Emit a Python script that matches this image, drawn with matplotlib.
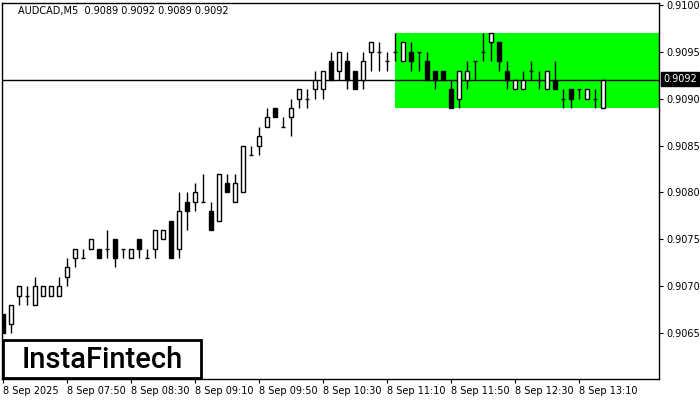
import matplotlib
matplotlib.use("Agg")
import matplotlib.pyplot as plt
from matplotlib.patches import Rectangle

# ---- data (AUDCAD M5) ----
opens = [0.9067, 0.9066, 0.9069, 0.9069, 0.9068, 0.9069, 0.9069, 0.9069, 0.9071, 0.9073,
         0.9073, 0.9074, 0.9074, 0.9074, 0.9075, 0.9074, 0.9073, 0.9075, 0.9073, 0.9074,
         0.9075, 0.9077, 0.9074, 0.9079, 0.9079, 0.9079, 0.9078, 0.9077, 0.9081, 0.9079,
         0.9080, 0.9084, 0.9085, 0.9087, 0.9089, 0.9087, 0.9088, 0.9090, 0.9090, 0.9091,
         0.9091, 0.9094, 0.9093, 0.9094, 0.9093, 0.9092, 0.9095, 0.9095, 0.9094, 0.9095,
         0.9094, 0.9095, 0.9095, 0.9094, 0.9093, 0.9093, 0.9091, 0.9090, 0.9092, 0.9094,
         0.9095, 0.9096, 0.9096, 0.9093, 0.9091, 0.9091, 0.9093, 0.9092, 0.9091, 0.9092,
         0.9090, 0.9091, 0.9091, 0.9090, 0.9090, 0.9089]
highs = [0.9067, 0.9068, 0.9070, 0.9070, 0.9071, 0.9070, 0.9070, 0.9071, 0.9073, 0.9074,
         0.9074, 0.9075, 0.9074, 0.9076, 0.9075, 0.9074, 0.9074, 0.9075, 0.9074, 0.9076,
         0.9076, 0.9077, 0.9080, 0.9080, 0.9081, 0.9082, 0.9079, 0.9082, 0.9082, 0.9082,
         0.9085, 0.9085, 0.9087, 0.9089, 0.9089, 0.9088, 0.9090, 0.9091, 0.9091, 0.9093,
         0.9093, 0.9095, 0.9095, 0.9095, 0.9093, 0.9095, 0.9096, 0.9096, 0.9095, 0.9097,
         0.9096, 0.9096, 0.9095, 0.9095, 0.9093, 0.9093, 0.9092, 0.9093, 0.9094, 0.9094,
         0.9097, 0.9097, 0.9096, 0.9094, 0.9092, 0.9093, 0.9094, 0.9093, 0.9093, 0.9094,
         0.9091, 0.9091, 0.9091, 0.9091, 0.9091, 0.9092]
lows = [0.9065, 0.9065, 0.9068, 0.9068, 0.9068, 0.9069, 0.9069, 0.9069, 0.9070, 0.9072,
        0.9073, 0.9074, 0.9073, 0.9073, 0.9072, 0.9073, 0.9073, 0.9073, 0.9073, 0.9073,
        0.9075, 0.9073, 0.9073, 0.9076, 0.9078, 0.9079, 0.9076, 0.9077, 0.9080, 0.9079,
        0.9080, 0.9084, 0.9084, 0.9087, 0.9088, 0.9087, 0.9086, 0.9089, 0.9089, 0.9090,
        0.9090, 0.9092, 0.9092, 0.9091, 0.9091, 0.9091, 0.9093, 0.9093, 0.9093, 0.9094,
        0.9094, 0.9093, 0.9093, 0.9092, 0.9091, 0.9092, 0.9089, 0.9089, 0.9091, 0.9092,
        0.9094, 0.9094, 0.9093, 0.9091, 0.9091, 0.9091, 0.9092, 0.9091, 0.9091, 0.9091,
        0.9089, 0.9089, 0.9090, 0.9090, 0.9089, 0.9089]
closes = [0.9065, 0.9068, 0.9070, 0.9069, 0.9070, 0.9070, 0.9070, 0.9070, 0.9072, 0.9074,
          0.9073, 0.9075, 0.9073, 0.9074, 0.9073, 0.9074, 0.9074, 0.9074, 0.9073, 0.9076,
          0.9076, 0.9073, 0.9078, 0.9078, 0.9080, 0.9079, 0.9076, 0.9082, 0.9080, 0.9081,
          0.9085, 0.9084, 0.9086, 0.9088, 0.9088, 0.9087, 0.9089, 0.9091, 0.9090, 0.9092,
          0.9093, 0.9092, 0.9095, 0.9092, 0.9091, 0.9094, 0.9096, 0.9095, 0.9094, 0.9095,
          0.9096, 0.9094, 0.9095, 0.9092, 0.9092, 0.9092, 0.9089, 0.9093, 0.9093, 0.9094,
          0.9095, 0.9097, 0.9094, 0.9092, 0.9092, 0.9092, 0.9093, 0.9092, 0.9093, 0.9091,
          0.9090, 0.9090, 0.9091, 0.9091, 0.9090, 0.9092]

x_tick_bars = [0, 8, 16, 24, 32, 40, 48, 56, 64, 72]
x_tick_labels = ["8 Sep 2025", "8 Sep 07:50", "8 Sep 08:30", "8 Sep 09:10", "8 Sep 09:50",
                 "8 Sep 10:30", "8 Sep 11:10", "8 Sep 11:50", "8 Sep 12:30", "8 Sep 13:10"]
y_ticks = [0.9065, 0.9070, 0.9075, 0.9080, 0.9085, 0.9090, 0.9095, 0.9100]

title_text = "AUDCAD,M5  0.9089 0.9092 0.9089 0.9092"
current_price = 0.9092
zone_start_bar = 49
zone_low, zone_high = 0.9089, 0.9097

# ---- figure ----
W, H = 700, 400
fig = plt.figure(figsize=(W / 100, H / 100), dpi=100)
ax = fig.add_axes([2 / W, (H - 379) / H, (659 - 2) / W, (379 - 3) / H])

n = len(opens)
xmax = 82.0
ax.set_xlim(-0.125, xmax)
ax.set_ylim(0.90601, 0.91002)

# green zone
ax.add_patch(Rectangle((zone_start_bar, zone_low), xmax - zone_start_bar, zone_high - zone_low,
                       facecolor="#00ff00", edgecolor="none", zorder=0))

# current price line
ax.axhline(current_price, color="black", lw=1.0, zorder=1)

bw = 0.6
for i in range(n):
    o, h, l, c = opens[i], highs[i], lows[i], closes[i]
    ax.plot([i, i], [l, h], color="black", lw=1.0, zorder=2, solid_capstyle="butt")
    if o == c:
        ax.plot([i - bw / 2, i + bw / 2], [o, o], color="black", lw=1.0, zorder=3,
                solid_capstyle="butt")
    else:
        fc = "white" if c > o else "black"
        ax.add_patch(Rectangle((i - bw / 2, min(o, c)), bw, abs(c - o),
                               facecolor=fc, edgecolor="black", lw=1.0, zorder=3))

# axes styling
ax.yaxis.tick_right()
ax.set_yticks(y_ticks)
ax.set_yticklabels([f"{v:.4f}" for v in y_ticks])
ax.set_xticks(x_tick_bars)
ax.set_xticklabels(x_tick_labels, ha="left")
ax.tick_params(axis="both", direction="out", length=3, width=0.8, labelsize=7, colors="black",
               pad=2)
for lab in ax.get_xticklabels():
    lab.set_horizontalalignment("left")
for s in ax.spines.values():
    s.set_linewidth(1.0)
    s.set_color("black")

# title
fig.text(18 / W, 1 - 11 / H, title_text, fontsize=7, ha="left", va="center", color="black")

# current price label
fig.text(663 / W, 1 - 79 / H, "0.9092", fontsize=7, ha="left", va="center", color="white",
         bbox=dict(boxstyle="square,pad=0.25", facecolor="black", edgecolor="black"))

# logo box
fig.patches.append(Rectangle((3 / W, 1 - 378 / H), 198 / W, 38 / H, transform=fig.transFigure,
                             facecolor="white", edgecolor="black", lw=2, zorder=10))
fig.text(102 / W, 1 - 360 / H, "InstaFintech", fontsize=21, family="Roboto", weight="medium",
         ha="center", va="center", color="black", zorder=11)

fig.savefig("out.png", dpi=100)
